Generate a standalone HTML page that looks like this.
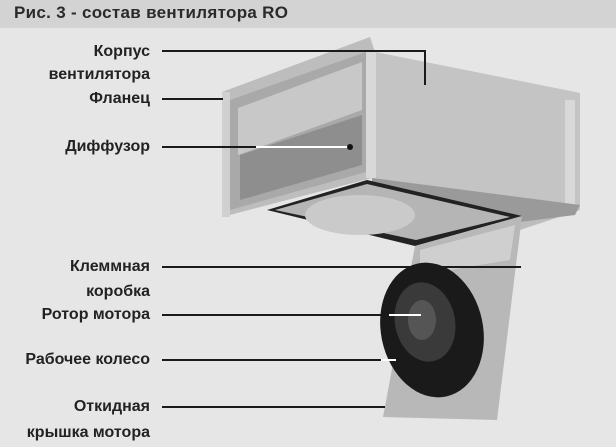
<!DOCTYPE html>
<html><head><meta charset="utf-8"><style>
html,body{margin:0;padding:0;}
body{width:616px;height:447px;background:#e6e6e6;position:relative;overflow:hidden;font-family:"Liberation Sans",sans-serif;}
.hd{position:absolute;left:0;top:0;width:616px;height:28px;background:#d3d3d3;}
.hd span{position:absolute;left:14px;top:3px;font-size:17px;font-weight:bold;color:#2a2a2a;letter-spacing:0.3px;}
.l{position:absolute;right:466px;font-size:16px;font-weight:bold;color:#222;white-space:nowrap;line-height:17px;}
svg{position:absolute;left:0;top:0;}
</style></head><body>
<div class="hd"><span>Рис. 3 - состав вентилятора RO</span></div>
<svg width="616" height="447" viewBox="0 0 616 447">
<polygon points="222,92 370,37 375,52 580,93 580,210 520,230 372,178 222,217" fill="#bdbdbd"/>
<polygon points="230,100 366,52 366,172 230,210" fill="#a9a9a9"/>
<polygon points="238,108 362,62 362,110 238,155" fill="#c8c8c8"/>
<polygon points="240,155 362,115 362,165 240,200" fill="#8e8e8e"/>
<polygon points="375,52 580,93 580,210 372,178" fill="#c4c4c4"/>
<polygon points="366,52 376,52 376,178 366,178" fill="#d8d8d8"/>
<polygon points="222,92 230,92 230,217 222,217" fill="#d0d0d0"/>
<polygon points="565,100 575,100 575,205 565,205" fill="#d8d8d8"/>
<polygon points="372,178 580,205 575,215 520,222 372,185" fill="#9a9a9a"/>
<polygon points="267,210 367,180 522,216 415,246" fill="#222"/>
<polygon points="275,210 367,184 510,217 416,240" fill="#b5b5b5"/>
<ellipse cx="360" cy="215" rx="55" ry="20" fill="#cacaca"/>
<polygon points="415,246 522,216 497,420 383,417" fill="#b8b8b8"/>
<polygon points="420,250 515,225 510,260 420,275" fill="#cfcfcf"/>
<ellipse cx="432" cy="330" rx="51" ry="68" transform="rotate(-12 432 330)" fill="#1a1a1a"/>
<ellipse cx="425" cy="322" rx="30" ry="40" transform="rotate(-12 425 322)" fill="#3a3a3a"/>
<ellipse cx="422" cy="320" rx="14" ry="20" fill="#555"/>
<g stroke="#1a1a1a" stroke-width="2" fill="none">
<polyline points="162,51 425,51 425,85"/>
<line x1="162" y1="99" x2="223" y2="99"/>
<line x1="162" y1="147" x2="256" y2="147"/>
<line x1="162" y1="267" x2="521" y2="267"/>
<line x1="162" y1="315" x2="389" y2="315"/>
<line x1="162" y1="360" x2="381" y2="360"/>
<line x1="162" y1="407" x2="385" y2="407"/>
</g>
<g stroke="#fff" stroke-width="2">
<line x1="256" y1="147" x2="350" y2="147"/>
<line x1="389" y1="315" x2="421" y2="315"/>
<line x1="381" y1="360" x2="396" y2="360"/>
</g>
<circle cx="350" cy="147" r="3" fill="#111"/>
</svg>
<div class="l" style="top:43px">Корпус</div>
<div class="l" style="top:66px">вентилятора</div>
<div class="l" style="top:90px">Фланец</div>
<div class="l" style="top:138px">Диффузор</div>
<div class="l" style="top:258px">Клеммная</div>
<div class="l" style="top:283px">коробка</div>
<div class="l" style="top:306px">Ротор мотора</div>
<div class="l" style="top:351px">Рабочее колесо</div>
<div class="l" style="top:398px">Откидная</div>
<div class="l" style="top:424px">крышка мотора</div>
</body></html>
